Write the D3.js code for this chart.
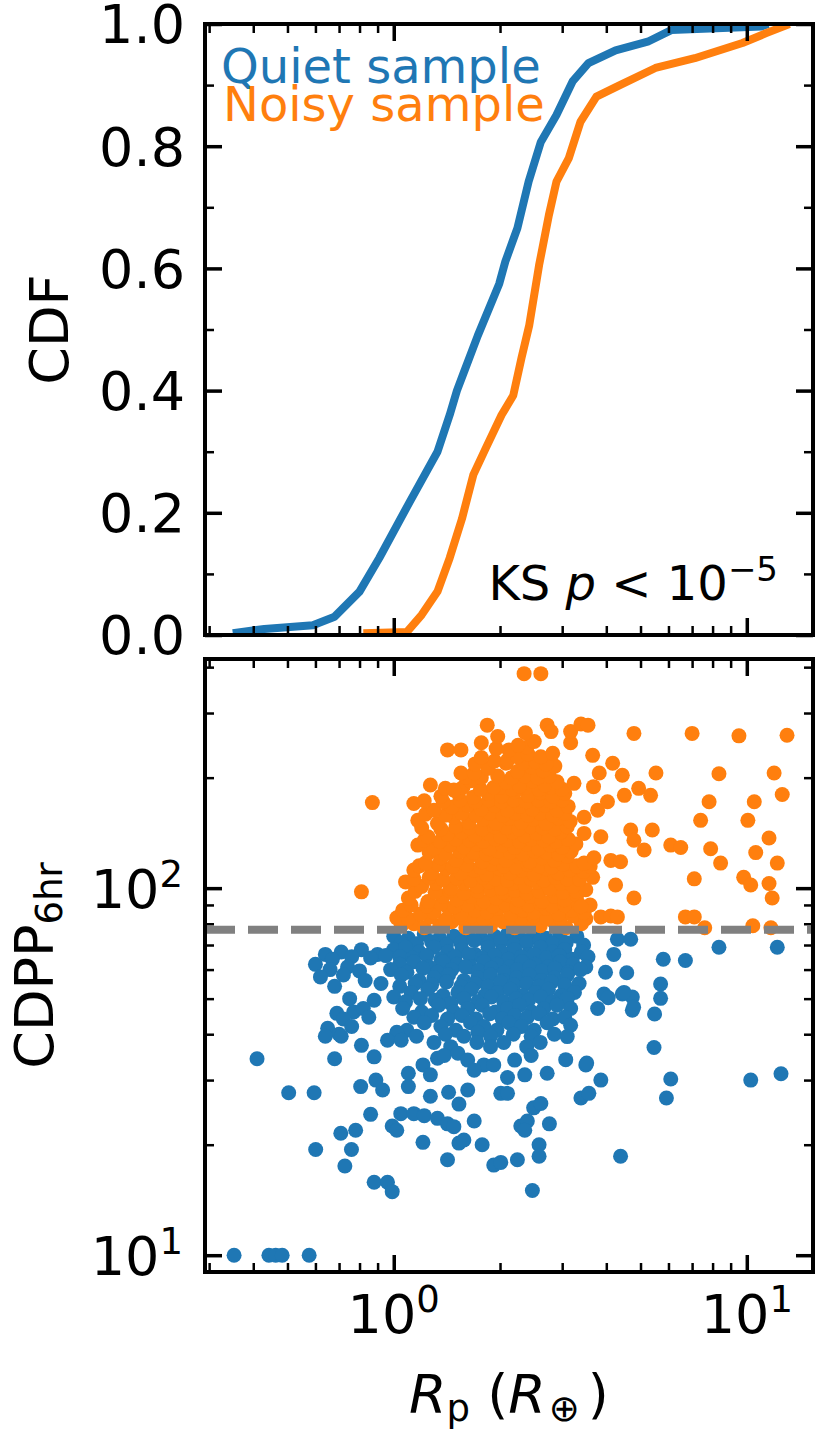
<!DOCTYPE html>
<html>
<head>
<meta charset="utf-8">
<script src="https://cdn.jsdelivr.net/npm/d3@7"></script>
<style>
  body { margin: 0; background: #fff; }
  text { font-family: "DejaVu Sans", sans-serif; }
</style>
</head>
<body>
<svg id="chart" width="819" height="1430"></svg>
<script>
const BLUE = "#1f77b4";
const ORANGE = "#ff7f0e";
const CDPP_CUT = 77;

// CDF curves (Rp, cumulative fraction)
const quietCdfR = [0.35, 0.43, 0.59, 0.68, 0.80, 0.91, 1.11, 1.33, 1.44, 1.51, 1.58, 1.73, 1.99, 2.07, 2.24, 2.41, 2.61, 2.89, 3.21, 3.56, 4.25, 5.24, 6.11, 11.0, 11.5];
const quietCdf  = [0.003, 0.01, 0.016, 0.03, 0.071, 0.126, 0.218, 0.30, 0.36, 0.40, 0.43, 0.49, 0.575, 0.611, 0.666, 0.742, 0.807, 0.851, 0.906, 0.936, 0.957, 0.971, 0.99, 0.996, 1.0];
const noisyCdfR = [0.82, 1.09, 1.20, 1.33, 1.44, 1.56, 1.68, 1.82, 2.02, 2.18, 2.30, 2.42, 2.58, 2.75, 2.89, 3.13, 3.38, 3.75, 4.37, 5.51, 7.12, 9.72, 11.35, 13.2];
const noisyCdf  = [0.003, 0.005, 0.033, 0.071, 0.126, 0.19, 0.262, 0.305, 0.36, 0.392, 0.453, 0.507, 0.605, 0.687, 0.742, 0.78, 0.84, 0.881, 0.90, 0.928, 0.944, 0.969, 0.985, 1.0];

// scatter: [Rp, CDPP_6hr]
const quietPoints = [
  [1.00,74],[1.10,73],[1.22,75],[1.35,73],[1.48,74],[1.62,75],[1.77,73],[1.93,74],[2.10,75],[2.28,73],[2.48,74],[2.70,73],[2.95,75],[3.30,74],[4.30,72.6],[4.69,72.6],
  [1.05,71],[1.16,70.5],[1.28,71.5],[1.41,70],[1.55,71],[1.69,72],[1.85,70.5],[2.01,71.5],[2.19,70],[2.38,71],[2.59,72],[2.82,70.5],[3.08,71],[3.45,70],
  [0.64,66],[0.71,67],[0.81,68],[0.90,66],[1.0,68],[1.08,69],[1.18,67],[1.30,69],[1.42,67],[1.56,68],[1.70,66],[1.85,69],[2.02,67],[2.20,68],[2.40,66],[2.60,69],[2.82,67],[3.05,68],[3.40,67],[4.2,66],[5.8,64],[6.7,63.5],[8.34,69],[12.2,69],
  [0.67,64],[0.76,65],[0.86,64.5],[0.95,65.5],[1.04,65],[1.13,64.5],[1.24,65.5],[1.36,64],[1.49,65],[1.63,66],[1.78,64.5],[1.93,65.5],[2.11,64],[2.30,65],[2.50,66],[2.71,64.5],[2.94,65.5],[3.2,64],[3.55,65],
  [0.60,62],[0.74,61],[1.04,62],[1.14,63],[1.26,61],[1.38,63],[1.51,62],[1.65,61],[1.80,63],[1.96,62],[2.13,61],[2.31,63],[2.51,62],[2.73,61],[2.96,63],[3.22,62],[3.50,61],
  [0.66,60],[0.80,59.5],[0.98,60],[1.09,59],[1.21,60.5],[1.33,59],[1.46,60],[1.60,61],[1.74,59.5],[1.89,60.5],[2.06,59],[2.24,60],[2.43,61],[2.63,59.5],[2.86,60.5],[3.12,59],[3.38,60],
  [0.62,57.3],[0.72,58],[0.83,56],[1.05,58],[1.18,56],[1.30,57],[1.43,58],[1.58,56],[1.73,57],[1.88,58],[2.05,56],[2.23,57],[2.42,58],[2.62,56],[2.85,57],[3.10,58],[3.98,59],[4.57,58.8],
  [0.68,54],[0.92,55],[1.04,54],[1.15,55],[1.28,54.5],[1.41,55.5],[1.55,54],[1.70,55],[1.85,54],[2.01,55.5],[2.19,54.5],[2.38,55],[2.58,54],[2.80,55.5],[3.05,54.5],[3.35,55],
  [1.0,50.5],[1.12,52],[1.25,53],[1.38,51],[1.52,52],[1.66,53],[1.81,51],[1.97,52],[2.14,53],[2.32,51],[2.52,52],[2.74,53],[2.98,51],[3.25,52],[3.94,51.5],[4.44,51.5],[4.74,50.5],[5.7,54.8],[5.7,50.1],[4.05,50.3],[4.49,52],
  [0.75,50],[0.88,49.5],[1.08,49],[1.19,50],[1.31,49.5],[1.45,48.5],[1.58,50],[1.73,49],[1.89,50.5],[2.05,49],[2.22,50],[2.41,49.5],[2.61,50.5],[2.82,49],[3.1,50],
  [0.69,45.6],[0.77,46],[0.82,47],[1.06,47],[1.20,46],[1.34,48],[1.48,46],[1.62,47],[1.78,48],[1.94,46],[2.10,47],[2.27,48],[2.46,46],[2.66,47],[2.90,48],[3.17,47],[3.78,47],[4.74,46.5],[5.48,45.4],[4.78,47.4],
  [0.72,44],[0.85,44.5],[1.14,44.5],[1.28,45],[1.42,44],[1.56,45],[1.71,44],[1.87,45.5],[2.03,44],[2.20,45],[2.39,44.5],[2.58,45.5],[2.82,44],[3.05,44.5],
  [0.65,41.5],[0.76,42],[1.09,41],[1.22,43],[1.36,42],[1.50,41],[1.65,43],[1.80,42],[1.96,41],[2.12,43],[2.30,42],[2.50,41],[2.72,43],[3.17,42.3],
  [0.70,40],[1.02,40.5],[1.16,39.5],[1.40,40],[1.58,39.5],[1.73,40.5],[1.88,39.5],[2.18,40],[2.45,39.5],[2.85,40],
  [0.64,39.5],[0.71,39.5],[0.81,37.3],[0.96,38.5],[1.05,38.5],[1.30,38],[1.45,37],[1.72,38],[1.88,37],[2.05,38],[2.38,37],[2.60,38],[3.10,39.4],[5.46,36.8],
  [0.41,34.3],[0.68,34.3],[0.88,34.7],[1.21,33],[1.33,34.4],[1.39,35],[1.52,35.5],[1.62,34],[1.8,33],[1.92,33],[2.2,34],[2.45,35],[3.07,34.1],[3.5,33],[3.52,33.4],
  [0.89,30],[1.1,31.3],[1.27,31],[1.69,31.9],[2.1,30.5],[2.35,31],[2.72,31.3],[3.86,30],[6.09,30.2],[10.26,30],[12.5,31.2],
  [0.504,27.7],[0.595,27.7],[0.806,28.8],[0.93,28.2],[1.1,28.8],[1.27,27.1],[1.43,27.8],[1.53,25.8],[1.62,28.2],[2.01,27.6],[2.1,27.6],[2.49,25.2],[2.61,25.9],[3.39,26.8],[3.57,27.6],[5.92,26.8],
  [0.708,21.5],[0.78,21.9],[0.86,24.2],[0.99,22.5],[1.02,21.9],[1.047,24.3],[1.14,24.3],[1.22,24],[1.33,23.6],[1.42,22.8],[1.48,22.4],[1.69,23.2],[2.29,22.5],[2.39,23.2],[2.76,22.8],[2.35,21.9],
  [0.601,19.4],[0.727,17.5],[0.759,19.4],[1.21,20.3],[1.42,18.2],[1.53,20.2],[1.58,20.6],[1.78,20],[1.92,17.6],[2.01,17.9],[2.24,18.2],[2.58,20],[2.58,18.6],[4.39,18.6],
  [0.88,15.8],[0.96,15.8],[0.99,14.9],[2.47,15],
  [0.353,10],[0.443,10],[0.463,10],[0.483,10],[0.576,10]
];
const noisyPoints = [
  [1.05,79],[1.14,80],[1.22,78],[1.35,79],[1.46,81],[1.60,78],[1.73,80],[1.88,79],[2.04,81],[2.20,78],[2.40,80],[2.60,79],[2.84,81],[3.08,78],[3.40,80],
  [1.02,83],[1.10,82.5],[1.27,83.5],[1.40,82],[1.53,83],[1.66,84],[1.80,82.5],[1.95,83.5],[2.11,82],[2.29,83],[2.49,84],[2.71,82.5],[2.96,83],[3.22,84],[3.5,82.5],
  [1.06,87],[1.19,85],[1.30,86],[1.43,88],[1.55,85],[1.70,87],[1.84,86],[1.98,88],[2.15,85],[2.32,87],[2.50,86],[2.70,88],[2.93,85],[3.20,87],[3.46,86],[3.86,83.5],[4.12,84],[4.30,83.5],
  [1.12,90],[1.24,89.5],[1.36,90.5],[1.49,89],[1.62,90],[1.77,91],[1.91,89.5],[2.07,90.5],[2.23,89],[2.41,90],[2.60,91],[2.81,89.5],[3.05,90],[3.33,91],[3.6,90],
  [1.10,94],[1.25,92],[1.38,95],[1.51,93],[1.66,95],[1.80,92],[1.95,94],[2.10,96],[2.26,93],[2.44,95],[2.63,92],[2.85,95],[3.05,93],[3.30,96],[3.39,89],[4.79,94],
  [1.15,98],[1.31,97.5],[1.44,98.5],[1.58,97],[1.73,98],[1.88,99],[2.04,97.5],[2.20,98.5],[2.38,97],[2.58,98],[2.78,99],[3.02,97.5],[3.28,98],[3.5,99],
  [1.08,104],[1.20,101],[1.32,103],[1.45,100],[1.58,103],[1.72,101],[1.86,104],[2.02,100],[2.18,103],[2.36,101],[2.55,104],[2.76,100],[2.98,103],[3.22,101],[3.66,107],[4.25,102],
  [1.14,106],[1.26,107],[1.38,105.5],[1.51,106.5],[1.65,105],[1.79,107],[1.94,106],[2.10,105],[2.27,107],[2.45,106],[2.66,105],[2.87,107],[3.10,106],[3.36,105.5],
  [1.14,112],[1.28,110],[1.41,113],[1.55,110],[1.69,112],[1.83,109],[1.99,113],[2.14,110],[2.31,112],[2.50,109],[2.70,113],[2.92,110],[3.15,112],[3.45,111],
  [1.18,115],[1.34,116],[1.47,114.5],[1.61,115.5],[1.76,114],[1.90,116],[2.05,115],[2.22,114],[2.40,116],[2.59,115],[2.80,114],[3.02,116],[3.30,115],[3.6,114.5],
  [1.23,117],[1.36,121],[1.50,119],[1.64,122],[1.78,118],[1.93,121],[2.08,119],[2.25,122],[2.43,118],[2.63,121],[2.85,119],[3.10,122],[3.46,117],[3.69,121],[4.12,119],[4.39,118],
  [1.26,125],[1.40,124],[1.54,126],[1.68,125],[1.83,124],[1.98,126],[2.14,125],[2.32,124],[2.51,126],[2.71,125],[2.93,124],[3.18,126],
  [1.17,131],[1.30,128],[1.44,131],[1.58,129],[1.72,132],[1.87,128],[2.03,131],[2.20,129],[2.38,132],[2.57,128],[2.78,131],[3.00,129],[3.28,132],
  [1.22,135],[1.35,134],[1.50,136],[1.64,135],[1.79,134],[1.94,136],[2.10,135],[2.27,134],[2.45,136],[2.66,135],[2.88,134],[3.12,136],
  [1.25,138],[1.42,140],[1.56,142],[1.70,139],[1.85,141],[2.01,138],[2.17,142],[2.35,139],[2.54,141],[2.75,138],[2.97,142],[3.46,141],[3.86,138],
  [1.20,146],[1.36,145],[1.50,147],[1.64,146],[1.78,145],[1.93,147],[2.09,146],[2.26,145],[2.44,147],[2.64,146],[2.86,145],[3.10,147],
  [1.17,153],[1.33,150],[1.48,156],[1.63,151],[1.79,154],[1.95,150],[2.12,155],[2.30,151],[2.49,154],[2.70,150],[2.93,155],[3.16,152],[3.46,156],
  [1.23,159],[1.40,158],[1.56,160],[1.71,158],[1.87,160],[2.04,158],[2.21,160],[2.40,158],[2.60,160],[2.82,158],[3.05,160],
  [1.14,170],[1.30,163],[1.46,166],[1.62,168],[1.77,164],[1.93,168],[2.10,163],[2.28,167],[2.47,164],[2.68,168],[2.90,163],[3.12,167],[3.78,163],
  [1.22,173],[1.38,172],[1.54,174],[1.70,172],[1.86,174],[2.02,172],[2.19,174],[2.37,172],[2.57,174],[2.79,172],[3.0,174],
  [1.36,178],[1.52,182],[1.68,177],[1.85,181],[2.02,178],[2.20,183],[2.40,179],[2.60,182],[2.82,178],[3.05,181],
  [1.40,187],[1.57,188],[1.76,186],[2.00,188],[2.17,186],[2.37,188],[2.58,186],[2.79,188],[3.0,186],
  [1.27,191],[1.48,185],[1.65,196],[1.92,188],[2.08,194],[2.27,190],[2.47,196],[2.68,191],[2.90,195],[3.24,193],[3.68,189],
  [1.60,201],[1.77,200],[1.97,202],[2.16,200],[2.35,202],[2.56,200],[2.76,202],
  [1.55,206],[1.69,206],[1.85,212],[2.08,219],[2.24,208],[2.45,214],[2.65,209],[2.86,215],
  [1.70,218],[1.93,222],[2.32,219],[2.52,221],[2.70,218],
  [1.77,227],[2.10,223],[2.24,228],[2.40,232],[2.61,228],[2.82,233],[3.66,230],
  [1.95,240],[2.12,238],[2.38,242],
  [1.42,238],[1.55,238],[1.77,249],[2.25,245],[2.50,251],[3.17,249],
  [1.84,278],[1.97,259],[2.36,265],[2.72,278],[2.79,267],[3.17,267],[3.39,280],[3.55,278],[2.34,384],[2.61,384],
  [0.87,171],[0.81,97.7],[4.79,264],[7.0,264],[9.5,260],[13.0,261],[4.17,219],[3.82,206],[4.44,203],[5.53,206],[8.34,205],[11.95,206],
  [12.6,180],[4.94,187],[5.34,179],[4.5,179],[4.03,172],[7.82,172],[10.5,172],[7.4,153],[10.07,153],[5.4,144],[4.69,144],[4.79,135],
  [5.12,127],[6.09,131],[6.5,129],[7.9,128],[11.56,137],[10.6,125],[8.43,117],[12.2,117],[7.1,106],[9.8,107],[10.26,102],[11.56,103],
  [11.8,94],[6.7,83.5],[7.1,83.5],[7.6,78],[10.4,79],[11.7,78]
];

// ticks
const rMajor = [1, 10];
const rMinor = [0.3, 0.4, 0.5, 0.6, 0.7, 0.8, 0.9, 2, 3, 4, 5, 6, 7, 8, 9];
const cdfMajor = [0, 0.2, 0.4, 0.6, 0.8, 1.0];
const cdfMinor = [0.1, 0.3, 0.5, 0.7, 0.9];
const cdppMajor = [10, 100];
const cdppMinor = [20, 30, 40, 50, 60, 70, 80, 90, 200, 300, 400];

const svg = d3.select("#chart");
const L = 205, R = 813;
const T1 = 24, B1 = 635;   // CDF panel
const T2 = 659, B2 = 1272; // scatter panel
const MAJ = 17, MIN = 9;

const x = d3.scaleLog().domain([0.292, 15.4]).range([L, R]);
const yCdf = d3.scaleLinear().domain([0, 1]).range([B1, T1]);
const yCdpp = d3.scaleLog().domain([9, 421]).range([B2, T2]);

const defs = svg.append("defs");
defs.append("clipPath").attr("id", "clipTop")
  .append("rect").attr("x", L).attr("y", T1).attr("width", R - L).attr("height", B1 - T1);
defs.append("clipPath").attr("id", "clipBot")
  .append("rect").attr("x", L).attr("y", T2).attr("width", R - L).attr("height", B2 - T2);

// ---- top: CDFs
const line = d3.line().x(d => x(d[0])).y(d => yCdf(d[1]));
const topG = svg.append("g").attr("clip-path", "url(#clipTop)");
[[quietCdfR, quietCdf, BLUE], [noisyCdfR, noisyCdf, ORANGE]].forEach(([rs, cs, c]) => {
  topG.append("path")
    .datum(rs.map((r, i) => [r, cs[i]]))
    .attr("d", line)
    .attr("fill", "none")
    .attr("stroke", c)
    .attr("stroke-width", 8)
    .attr("stroke-linejoin", "round");
});

// ---- bottom: scatter
const botG = svg.append("g").attr("clip-path", "url(#clipBot)");
[[quietPoints, BLUE], [noisyPoints, ORANGE]].forEach(([pts, c]) => {
  botG.append("g").selectAll("circle")
    .data(pts)
    .join("circle")
    .attr("cx", d => x(d[0]))
    .attr("cy", d => yCdpp(d[1]))
    .attr("r", 7.5)
    .attr("fill", c);
});
botG.append("line")
  .attr("x1", L).attr("x2", R)
  .attr("y1", yCdpp(CDPP_CUT)).attr("y2", yCdpp(CDPP_CUT))
  .attr("stroke", "#808080")
  .attr("stroke-width", 8)
  .attr("stroke-dasharray", "30,13");

// ---- ticks (inward, all four sides)
function tickAxis(axis, scale, vals, len, w, tx, ty) {
  const g = svg.append("g")
    .attr("transform", `translate(${tx},${ty})`)
    .call(axis(scale).tickValues(vals).tickSize(-len).tickFormat(""));
  g.select(".domain").remove();
  g.selectAll(".tick text").remove();
  g.selectAll(".tick line").attr("stroke", "#000").attr("stroke-width", w);
}
[[T1, B1, yCdf, cdfMajor, cdfMinor], [T2, B2, yCdpp, cdppMajor, cdppMinor]].forEach(([t, b, ys, maj, min]) => {
  tickAxis(d3.axisBottom, x, rMajor, MAJ, 3.5, 0, b);
  tickAxis(d3.axisBottom, x, rMinor, MIN, 2.5, 0, b);
  tickAxis(d3.axisTop, x, rMajor, MAJ, 3.5, 0, t);
  tickAxis(d3.axisTop, x, rMinor, MIN, 2.5, 0, t);
  tickAxis(d3.axisLeft, ys, maj, MAJ, 3.5, L, 0);
  tickAxis(d3.axisLeft, ys, min, MIN, 2.5, L, 0);
  tickAxis(d3.axisRight, ys, maj, MAJ, 3.5, R, 0);
  tickAxis(d3.axisRight, ys, min, MIN, 2.5, R, 0);
});

// spines
[[T1, B1], [T2, B2]].forEach(([t, b]) => {
  svg.append("rect")
    .attr("x", L).attr("y", t).attr("width", R - L).attr("height", b - t)
    .attr("fill", "none").attr("stroke", "#000").attr("stroke-width", 4);
});

// ---- tick labels
const FS = 54, SUP = 37;
function pow10(sel, e) {
  sel.append("tspan").text("10");
  sel.append("tspan").attr("font-size", SUP).attr("dy", -21).text(e);
}
svg.append("g").selectAll("text")
  .data(cdfMajor).join("text")
  .attr("x", L - 20).attr("y", d => yCdf(d)).attr("dy", "0.36em")
  .attr("text-anchor", "end").attr("font-size", FS)
  .text(d3.format(".1f"));
svg.append("g").selectAll("text")
  .data(cdppMajor).join("text")
  .attr("x", L - 22).attr("y", d => yCdpp(d)).attr("dy", "0.36em")
  .attr("text-anchor", "end").attr("font-size", FS)
  .each(function (d) { pow10(d3.select(this), Math.round(Math.log10(d))); });
svg.append("g").selectAll("text")
  .data(rMajor).join("text")
  .attr("x", d => x(d)).attr("y", 1333)
  .attr("text-anchor", "middle").attr("font-size", FS)
  .each(function (d) { pow10(d3.select(this), Math.round(Math.log10(d))); });

// ---- axis titles
svg.append("text")
  .attr("transform", `translate(68,${(T1 + B1) / 2}) rotate(-90)`)
  .attr("text-anchor", "middle").attr("font-size", FS)
  .text("CDF");
const yl = svg.append("text")
  .attr("transform", `translate(53,${(T2 + B2) / 2}) rotate(-90)`)
  .attr("text-anchor", "middle").attr("font-size", FS);
yl.append("tspan").text("CDPP");
yl.append("tspan").attr("font-size", SUP).attr("dy", 9).text("6hr");

const xl = svg.append("text")
  .attr("x", (L + R) / 2).attr("y", 1413)
  .attr("text-anchor", "middle").attr("font-size", FS);
xl.append("tspan").attr("font-style", "italic").text("R");
xl.append("tspan").attr("font-size", SUP).attr("dy", 8).text("p");
xl.append("tspan").attr("dy", -8).text(" (");
xl.append("tspan").attr("font-style", "italic").text("R");
xl.append("tspan").attr("font-size", SUP).attr("dy", 8).attr("dx", 3).text("\u2295");
xl.append("tspan").attr("dy", -8).attr("dx", 8).text(")");

// ---- legend + KS annotation
svg.append("text").attr("x", 221).attr("y", 83).attr("font-size", 48)
  .attr("fill", BLUE).text("Quiet sample");
svg.append("text").attr("x", 223).attr("y", 121).attr("font-size", 48)
  .attr("fill", ORANGE).text("Noisy sample");

const ks = svg.append("text")
  .attr("x", 778).attr("y", 600)
  .attr("text-anchor", "end").attr("font-size", 48);
ks.append("tspan").text("KS ");
ks.append("tspan").attr("font-style", "italic").text("p");
ks.append("tspan").text(" < 10");
ks.append("tspan").attr("font-size", 34).attr("dy", -19).text("\u22125");
</script>
</body>
</html>
